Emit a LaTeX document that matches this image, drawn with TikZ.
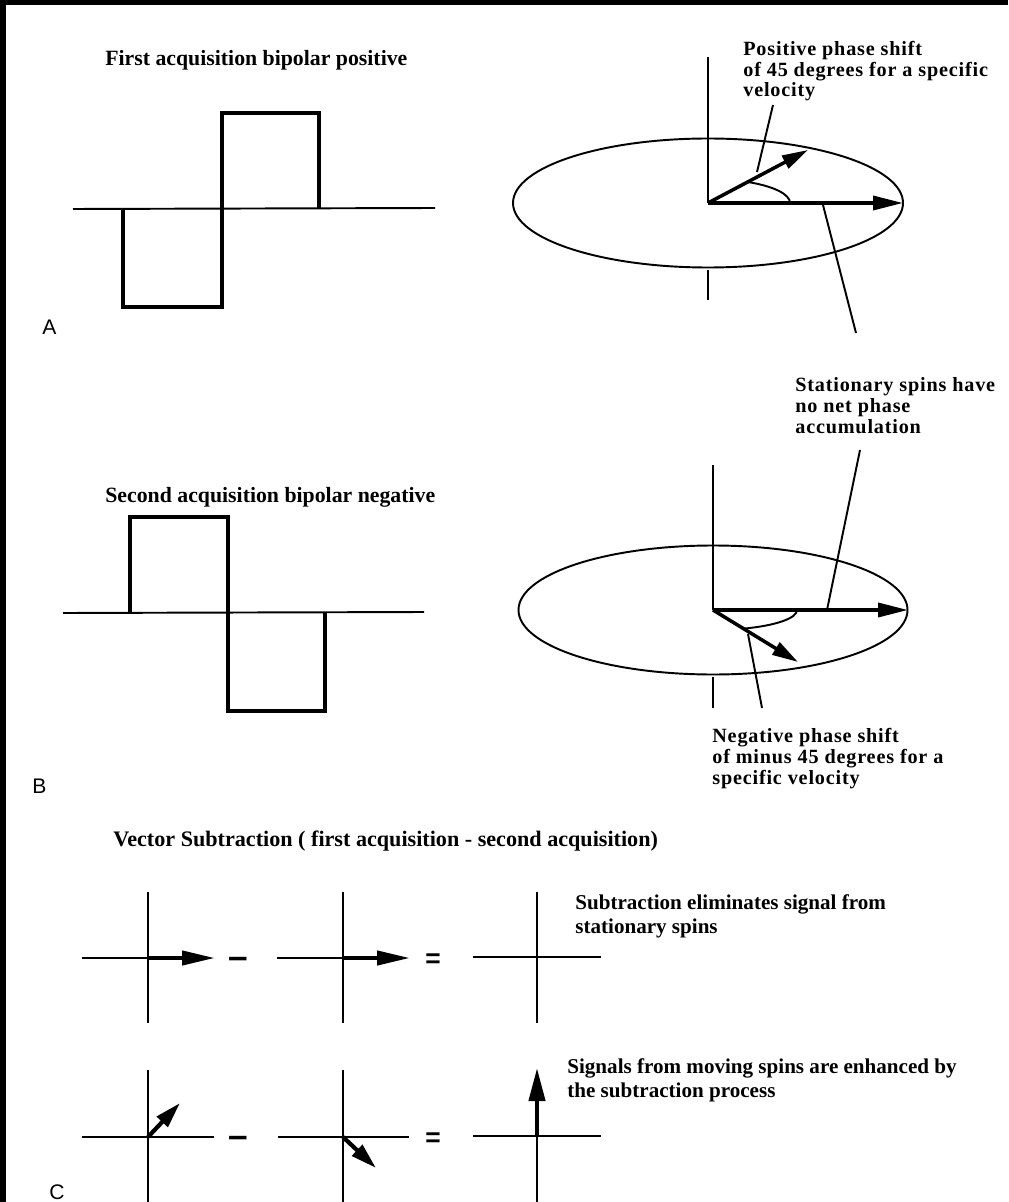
\documentclass[tikz,border=0pt]{standalone}
\usepackage{fontspec}
\setmainfont{Liberation Serif}
\setsansfont{Liberation Sans}
\newfontfamily\lblfont[LetterSpace=4]{Liberation Serif}
\usetikzlibrary{arrows.meta}

\begin{document}
\begin{tikzpicture}[x=0.02cm,y=-0.02cm,
    ttl/.style={anchor=base west,inner sep=0pt,font=\bfseries\fontsize{12.4}{14}\selectfont},
    lbl/.style={anchor=base west,inner sep=0pt,align=left,font=\lblfont\bfseries\fontsize{11.5}{11.9}\selectfont},
    clbl/.style={anchor=base west,inner sep=0pt,align=left,font=\bfseries\fontsize{12}{13.3}\selectfont},
    tag/.style={anchor=base west,inner sep=0pt,font=\sffamily\fontsize{12}{14}\selectfont},
    opsym/.style={anchor=base,inner sep=0pt,font=\sffamily\bfseries\fontsize{20}{20}\selectfont},
    eqsym/.style={anchor=base,inner sep=0pt,font=\sffamily\bfseries\fontsize{15}{15}\selectfont},
    ax/.style={line width=1.1pt},
    pulse/.style={line width=2.3pt,line join=miter},
    vec/.style={line width=2pt,-{Triangle[length=0.6cm,width=0.28cm]}},
    dvec/.style={line width=2pt,-{Triangle[length=0.52cm,width=0.28cm]}}]
    \useasboundingbox (0,0) rectangle (1008,1202);
    \fill[black] (0,0) rectangle (1008,5);
    \fill[black] (0,0) rectangle (6,1202);

    % panel A, gradient waveform
    \node[ttl] (ttlA) at (105,66) {First acquisition bipolar positive};
    \draw[ax] (73,209) -- (435,208);
    \draw[pulse] (123,209) -- (123,307) -- (222,307) -- (222,113) -- (319,113) -- (319,208);
    \node[tag] (tagA) at (42,335) {A};

    % panel A, phase diagram
    \coordinate (oA) at (708,203);
    \coordinate (tipA1) at (903,203);
    \coordinate (tipA2) at (808,150);
    \draw[ax] (oA) ellipse [x radius=195, y radius=64.5];
    \draw[ax] (708,57) -- (oA);
    \draw[ax] (708,270) -- (708,300);
    \draw[ax] (790,203) arc[start angle=0, end angle=-61, x radius=82, y radius=24];
    \draw[vec] (oA) -- (tipA1);
    \draw[dvec] (oA) -- (tipA2);
    \node[lbl] (posLbl) at (743,97) {Positive phase shift\\of 45 degrees for a specific\\velocity};
    \coordinate (posA) at (773,105);
    \coordinate (posB) at (757,172);
    \draw[ax] (posA) -- (posB);
    \coordinate (statA1) at (823,205);
    \coordinate (statA2) at (856,333);
    \draw[ax] (statA1) -- (statA2);
    \node[lbl] (statLbl) at (795,433) {Stationary spins have\\no net phase\\accumulation};

    % panel B, gradient waveform
    \node[ttl] (ttlB) at (105,502) {Second acquisition bipolar negative};
    \draw[ax] (63,613) -- (424,612);
    \draw[pulse] (130,613) -- (130,517) -- (228,517) -- (228,711) -- (325,711) -- (325,612);
    \node[tag] (tagB) at (32,793) {B};

    % panel B, phase diagram
    \coordinate (oB) at (713,610);
    \coordinate (tipB1) at (908,610);
    \coordinate (tipB2) at (798,662);
    \draw[ax] (oB) ellipse [x radius=194.5, y radius=64.5];
    \draw[ax] (713,465) -- (oB);
    \draw[ax] (713,677) -- (713,708);
    \draw[ax] (797,610) arc[start angle=0, end angle=69, x radius=84, y radius=20];
    \draw[vec] (oB) -- (tipB1);
    \draw[dvec] (oB) -- (tipB2);
    \coordinate (statB1) at (860,450);
    \coordinate (statB2) at (827,610);
    \draw[ax] (statB1) -- (statB2);
    \coordinate (negB1) at (748,634);
    \coordinate (negB2) at (762,708);
    \draw[ax] (negB1) -- (negB2);
    \node[lbl] (negLbl) at (712,784) {Negative phase shift\\of minus 45 degrees for a\\specific velocity};

    % panel C, vector subtraction
    \node[ttl,font=\bfseries\fontsize{12.6}{14}\selectfont] (ttlC) at (113,846) {Vector Subtraction ( first acquisition - second acquisition)};
    \coordinate (c11) at (148,958);
    \coordinate (c12) at (343,958);
    \coordinate (c13) at (537,957);
    \coordinate (c21) at (148,1137);
    \coordinate (c22) at (343,1137);
    \coordinate (c23) at (537,1136);

    \draw[ax] (148,892) -- (148,1023);
    \draw[ax] (82,958) -- (195,958);
    \draw[ax] (343,892) -- (343,1023);
    \draw[ax] (277,958) -- (390,958);
    \draw[ax] (537,892) -- (537,1023);
    \draw[ax] (473,957) -- (601,957);
    \draw[vec,line width=2.4pt,-{Triangle[length=0.66cm,width=0.28cm]}] (c11) -- (215,958);
    \draw[vec,line width=2.4pt,-{Triangle[length=0.66cm,width=0.28cm]}] (c12) -- (410,958);
    \node[opsym] (minus1) at (238,968) {–};
    \node[eqsym] (eq1) at (433,967) {=};
    \node[clbl] (subLbl) at (575,933) {Subtraction eliminates signal from\\stationary spins};

    \draw[ax] (148,1070) -- (148,1202);
    \draw[ax] (82,1137) -- (214,1137);
    \draw[ax] (343,1070) -- (343,1202);
    \draw[ax] (278,1137) -- (409,1137);
    \draw[ax] (537,1202) -- (c23);
    \draw[ax] (473,1136) -- (601,1136);
    \draw[dvec,line width=2.4pt,-{Triangle[length=0.52cm,width=0.29cm]}] (c21) -- (180,1103);
    \draw[dvec,line width=2.4pt,-{Triangle[length=0.52cm,width=0.29cm]}] (c22) -- (376,1168);
    \draw[vec,line width=2.4pt,-{Triangle[length=0.66cm,width=0.32cm]}] (c23) -- (537,1068);
    \node[opsym] (minus2) at (238,1147) {–};
    \node[eqsym] (eq2) at (433,1146) {=};
    \node[clbl] (sigLbl) at (567,1097) {Signals from moving spins are enhanced by\\the subtraction process};
    \node[tag] (tagC) at (49,1199) {C};
\end{tikzpicture}
\end{document}
